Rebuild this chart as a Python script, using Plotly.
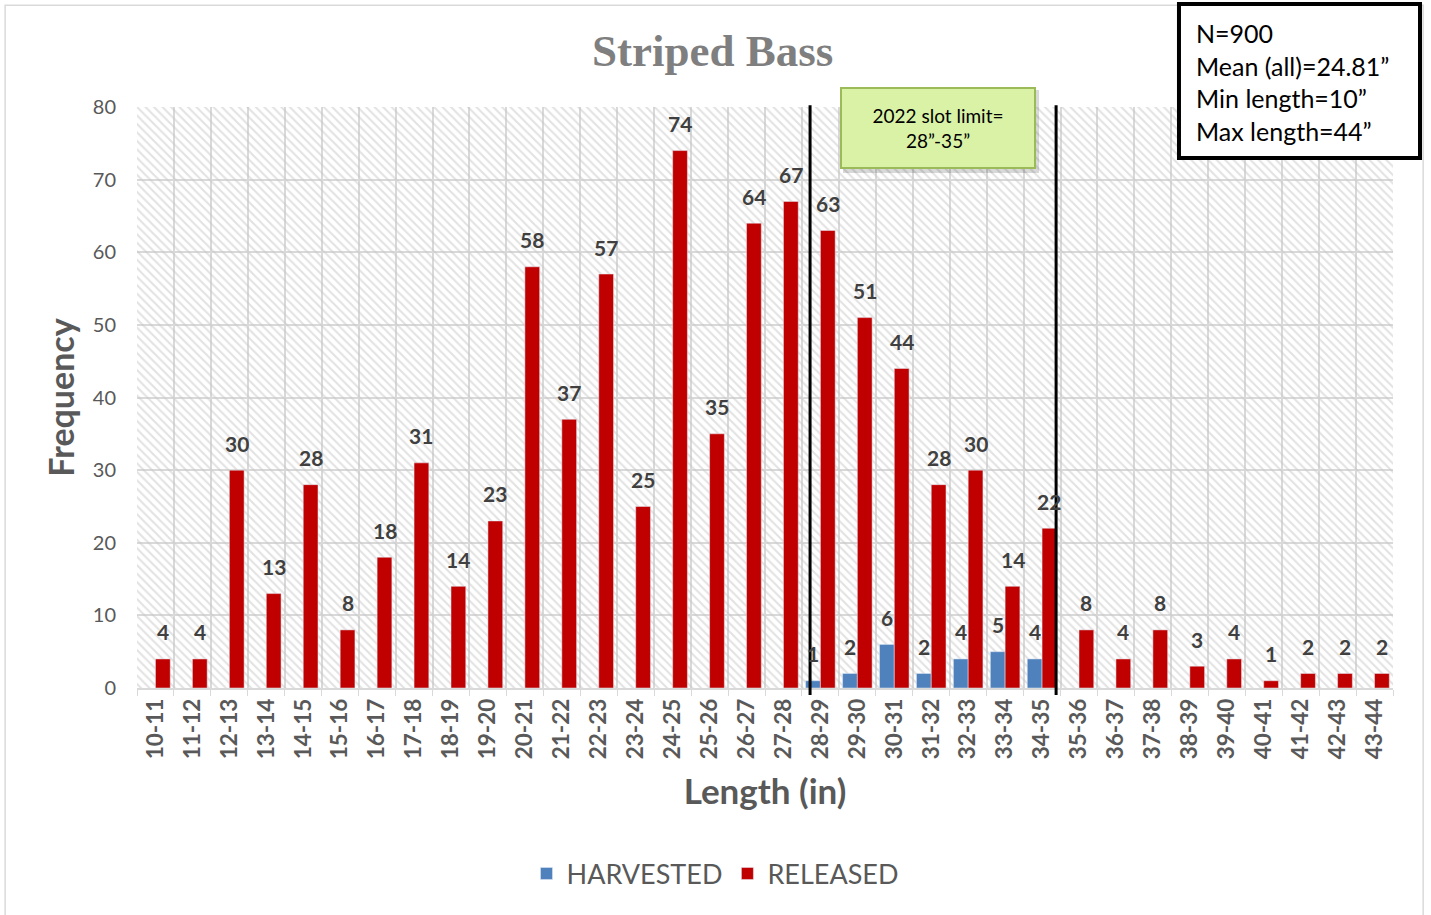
import plotly.graph_objects as go

# -------------------------------
# Dados
# -------------------------------
length_bins = ["10-11", "11-12", "12-13", "13-14", "14-15", "15-16", "16-17", "17-18",
               "18-19", "19-20", "20-21", "21-22", "22-23", "23-24", "24-25", "25-26",
               "26-27", "27-28", "28-29", "29-30", "30-31", "31-32", "32-33", "33-34",
               "34-35", "35-36", "36-37", "37-38", "38-39", "39-40", "40-41", "41-42",
               "42-43", "43-44"]

harvested = [None] * 18 + [1, 2, 6, 2, 4, 5, 4] + [None] * 9

released = [4, 4, 30, 13, 28, 8, 18, 31, 14, 23, 58, 37, 57, 25, 74, 35,
            64, 67, 63, 51, 44, 28, 30, 14, 22, 8, 4, 8, 3, 4, 1, 2, 2, 2]

y_ticks = [0, 10, 20, 30, 40, 50, 60, 70, 80]
slot_lines = [17.72, 24.38]   # posição das linhas do slot (índice de categoria)

stats_text = "N=900<br>Mean (all)=24.81”<br>Min length=10”<br>Max length=44”"
slot_text = "2022 slot limit=<br>28”-35”"

GREY = "#595959"
FONT = "Lato"
BAR_OFFSET = 7.4   # meia largura de barra em px (rótulos das barras agrupadas)

fig = go.Figure()

# fundo hachurado da área do gráfico
fig.add_trace(go.Bar(
    x=[0.5], y=[y_ticks[-1]], width=[1],
    xaxis="x", yaxis="y",
    marker=dict(color="rgba(0,0,0,0)", line=dict(width=0),
                pattern=dict(shape="\\", fgcolor="#c6c6c6", bgcolor="rgba(0,0,0,0)",
                             size=6, solidity=0.35)),
    showlegend=False, hoverinfo="skip",
))

fig.add_trace(go.Bar(
    x=length_bins, y=harvested, name="HARVESTED",
    xaxis="x2", yaxis="y", marker_color="#4f81bd",
))

fig.add_trace(go.Bar(
    x=length_bins, y=released, name="RELEASED",
    xaxis="x2", yaxis="y", marker_color="#c00000",
))

# rótulos de dados (acima das barras)
for series, shift in ((harvested, -BAR_OFFSET), (released, BAR_OFFSET)):
    for cat, v in zip(length_bins, series):
        if v is None:
            continue
        fig.add_annotation(
            x=cat, y=v, xref="x2", yref="y", text=str(v), showarrow=False,
            xshift=shift, yshift=27, yanchor="middle",
            font=dict(family=FONT, size=21, color="#404040", weight="bold"),
        )

# linhas verticais do slot
for xv in slot_lines:
    fig.add_shape(type="line", xref="x2", yref="paper", x0=xv, x1=xv,
                  y0=-0.012, y1=1.003, line=dict(color="black", width=3))

# borda externa do gráfico
fig.add_shape(type="rect", xref="paper", yref="paper",
              x0=-0.105, x1=1.024, y0=-0.41, y1=1.175,
              line=dict(color="#d9d9d9", width=1.5), layer="below")

# caixa do slot limit (sombra + caixa)
fig.add_shape(type="rect", xref="paper", yref="paper",
              x0=0.5621, x1=0.7182, y0=0.8864, y1=1.0293,
              fillcolor="rgba(0,0,0,0.15)", line=dict(width=0), layer="above")
fig.add_annotation(
    text=slot_text, xref="paper", yref="paper", x=0.6377, y=0.964,
    xanchor="center", yanchor="middle",
    showarrow=False, width=190, height=76, align="center",
    font=dict(family=FONT, size=19, color="black"),
    bgcolor="#d9f2a6", bordercolor="#9bbb59", borderwidth=2,
)

# caixa de estatísticas
fig.add_shape(type="rect", xref="paper", yref="paper",
              x0=0.8296, x1=1.0215, y0=0.9122, y1=1.1773,
              fillcolor="white", line=dict(color="black", width=4), layer="above")
fig.add_annotation(
    text=stats_text, xref="paper", yref="paper", x=0.8415, y=1.0422,
    xanchor="left", yanchor="middle", showarrow=False, align="left",
    font=dict(family=FONT, size=25, color="black"),
)

fig.update_layout(
    width=1431, height=915,
    margin=dict(l=137, r=38, t=107, b=227, autoexpand=False),
    paper_bgcolor="white", plot_bgcolor="white",
    barmode="group", bargap=0.2, bargroupgap=0,
    title=dict(text="<b>Striped Bass</b>", x=0.498, xanchor="center",
               y=0.945, yanchor="middle",
               font=dict(family="Liberation Serif", size=45, color="#7f7f7f")),
    xaxis=dict(range=[0, 1], visible=False, fixedrange=True),
    xaxis2=dict(overlaying="x", side="bottom", type="category",
                tickson="boundaries", showgrid=True, gridcolor="#d9d9d9", gridwidth=1.5,
                showline=True, linecolor="#d9d9d9", linewidth=1.5,
                ticks="outside", ticklen=6, tickcolor="#d9d9d9",
                tickangle=-90,
                tickfont=dict(family=FONT, size=22.5, color=GREY, weight="bold"),
                title=dict(text="Length (in)", standoff=21,
                           font=dict(family=FONT, size=35, color=GREY, weight="bold"))),
    yaxis=dict(range=[0, y_ticks[-1]], tickvals=y_ticks,
               showgrid=True, gridcolor="#d9d9d9", gridwidth=1.5,
               zeroline=False, showline=False, ticks="", ticklabelstandoff=20,
               tickfont=dict(family=FONT, size=20, color=GREY),
               title=dict(text="Frequency", standoff=7,
                          font=dict(family=FONT, size=34, color=GREY, weight="bold"))),
    legend=dict(orientation="h", x=0.4602, xanchor="center", y=-0.32, yanchor="middle",
                font=dict(family=FONT, size=27, color=GREY), itemwidth=30,
                traceorder="normal"),
)

fig.write_html("out.html", config={"displayModeBar": False},
               post_script="document.body.style.margin='0';")
